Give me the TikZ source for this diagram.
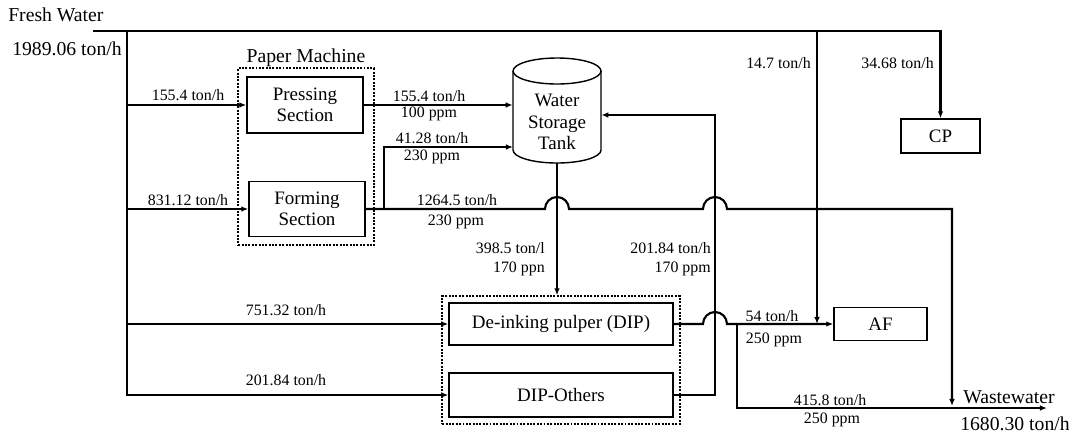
\documentclass[tikz,border=0pt]{standalone}
\usepackage{fontspec}
\setmainfont{Liberation Serif}
\usepackage{tikz}
\usetikzlibrary{arrows.meta,fit}
\newcommand{\flowfont}{\fontsize{11.3}{13}\selectfont}
\newcommand{\bigfont}{\fontsize{14}{16}\selectfont}
\newcommand{\unitfont}{\fontsize{13.5}{15.2}\selectfont}
\tikzset{
  unitbox/.style={draw,line width=1pt,align=center,font=\unitfont,inner sep=0pt},
  groupbox/.style={draw,densely dotted,line width=1.4pt},
  pipe/.style={line width=1.5pt},
  flow/.style={pipe,-{Latex[length=5pt,width=4pt]}},
  lbl/.style={font=\flowfont,inner sep=0pt,anchor=base},
  biglbl/.style={font=\bigfont,inner sep=0pt,anchor=base west}
}

\begin{document}
\begin{tikzpicture}[x=0.025cm,y=-0.025cm]
\useasboundingbox (0,0) rectangle (1069,436);
% Fresh water
\node[biglbl] (fw) at (8,21) {Fresh Water};
\node[biglbl] (fwin) at (12,55) {1989.06 ton/h};
\coordinate (fwstart) at (93,31);
\coordinate (fwleft) at (127,31);
\coordinate (fwaf) at (817,31);
\coordinate (fwcp) at (940.5,31);
% Paper machine
\node[unitbox,minimum width=2.9cm,minimum height=1.4cm] (press) at (305,105) {Pressing\\Section};
\node[unitbox,minimum width=2.9cm,minimum height=1.375cm] (form) at (307,209) {Forming\\Section};
\node[groupbox,fit=(press)(form),inner sep=0.2cm] (pm) {};
\node[biglbl,anchor=base] (pmlbl) at (306,62) {Paper Machine};
% Tank
\node[minimum width=2.2cm,minimum height=2.625cm,inner sep=0pt] (tank) at (557,110.5) {};
\draw[line width=1pt] (513,71) -- (513,150) arc[start angle=180,end angle=360,x radius=1.1cm,y radius=0.325cm] -- (601,71);
\draw[line width=1pt] (557,71) ellipse[x radius=1.1cm,y radius=0.325cm];
\node[align=center,font=\unitfont,inner sep=0pt] (tanktxt) at (557,122) {Water\\Storage\\Tank};
% DIP
\node[unitbox,minimum width=5.6cm,minimum height=1.05cm] (dip) at (561,324) {De-inking pulper (DIP)};
\node[unitbox,minimum width=5.6cm,minimum height=1.1cm] (dipo) at (561,395) {DIP-Others};
\node[groupbox,fit=(dip)(dipo),inner sep=0.15cm] (dipgrp) {};
% CP and AF
\node[unitbox,minimum width=1.975cm,minimum height=0.85cm] (cp) at (940.5,136) {CP};
\node[unitbox,minimum width=2.325cm,minimum height=0.825cm] (af) at (880.5,324) {AF};

% fresh water lines
\draw[flow] (fwstart) -- (fwcp) -- (cp.north);
\draw[flow] (fwleft) |- (dipo.west);
\draw[flow] (fwleft |- press.west) -- (press.west);
\draw[flow] (fwleft |- form.west) -- (form.west);
\draw[flow] (fwleft |- dip.west) -- (dip.west);
\draw[flow] (fwaf) -- (fwaf |- af.west);
\node[lbl] (f1) at (188,100) {155.4 ton/h};
\node[lbl] (f2) at (188,205) {831.12 ton/h};
\node[lbl] (f3) at (286,315) {751.32 ton/h};
\node[lbl] (f4) at (286,385) {201.84 ton/h};
\node[lbl,anchor=base east] (f5) at (811,68) {14.7 ton/h};
\node[lbl,anchor=base east] (f6) at (934,68) {34.68 ton/h};

% to the tank
\draw[flow] (press.east) -- (press.east -| tank.west);
\coordinate (split) at (384,209);
\coordinate (tankin) at (513,147);
\draw[flow] (split) |- (tankin);
\node[lbl] (p1) at (429,101.5) {155.4 ton/h};
\node[lbl] (p2) at (429,117.5) {100 ppm};
\node[lbl] (p3) at (432,143) {41.28 ton/h};
\node[lbl] (p4) at (432,160) {230 ppm};

% forming section outlet
\coordinate (wturn) at (952,209);
\coordinate (wdown) at (952,406);
\draw[flow] (form.east) -- (545,209) arc[start angle=180,end angle=0,radius=0.3cm]
  -- (703,209) arc[start angle=180,end angle=0,radius=0.3cm] -- (wturn) -- (wdown);
\node[lbl] (p5) at (457,205) {1264.5 ton/h};
\node[lbl] (p6) at (456,225) {230 ppm};

% tank to DIP
\draw[flow] (tank.south) -- (tank.south |- dipgrp.north);
\node[lbl,anchor=base east] (p7) at (545,253) {398.5 ton/l};
\node[lbl,anchor=base east] (p8) at (545,272) {170 ppn};

% DIP-Others back to tank
\coordinate (ret) at (715,395);
\draw[flow] (dipo.east) -- (ret) |- (tank.east |- 0,115);
\node[lbl,anchor=base east] (p9) at (711,253) {201.84 ton/h};
\node[lbl,anchor=base east] (p10) at (711,272) {170 ppm};

% DIP outlet
\coordinate (wsplit) at (737,324);
\coordinate (wlow) at (737,408);
\coordinate (wout) at (1047,408);
\draw[flow] (dip.east) -- (703,324) arc[start angle=180,end angle=0,radius=0.3cm] -- (wsplit) -- (af.west);
\draw[flow] (wsplit) -- (wlow) -- (wout);
\node[lbl] (p11) at (772,321) {54 ton/h};
\node[lbl] (p12) at (774,343) {250 ppm};
\node[lbl] (p13) at (830,405) {415.8 ton/h};
\node[lbl] (p14) at (832,423) {250 ppm};
\node[biglbl] (ww) at (963,403) {Wastewater};
\node[biglbl] (wwout) at (960,430) {1680.30 ton/h};
\end{tikzpicture}
\end{document}
